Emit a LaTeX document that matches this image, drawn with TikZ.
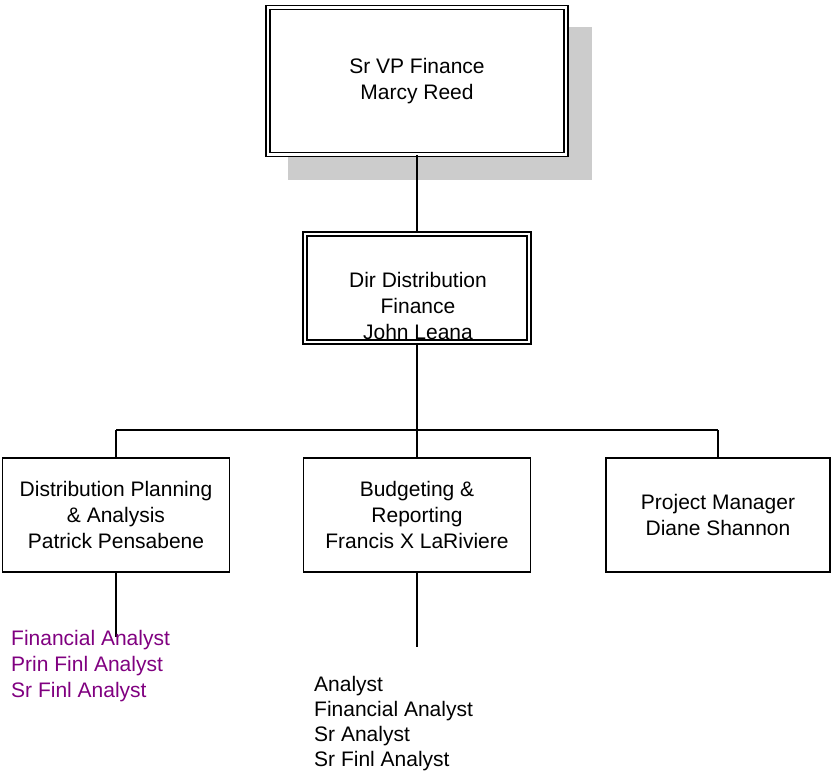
\documentclass[tikz,border=0pt]{standalone}
\usepackage{fontspec}
\setmainfont{Liberation Sans}
\definecolor{shadowgray}{HTML}{CCCCCC}
\definecolor{listpurple}{HTML}{800080}
\begin{document}
\begin{tikzpicture}[x=1pt,y=-1pt,
  txt/.style={font=\fontsize{21}{26}\selectfont, align=center, inner sep=0pt},
  plainbox/.style={draw, line width=1.7pt, inner sep=0pt},
  dblbox/.style={draw, double, double distance=2.6pt, line width=1.6pt, inner sep=0pt},
  conn/.style={line width=1.7pt},
  listtxt/.style={font=\fontsize{21}{25}\selectfont, align=left, inner sep=0pt, anchor=north west}]
\useasboundingbox (0,0) rectangle (832,773);
% shadow
\fill[shadowgray] (288,27) rectangle (592,180);
% boxes
\node[dblbox, fill=white, minimum width=298pt, minimum height=147pt] (b1) at (417,81) {};
\node[txt] (t1) at (417,81) {Sr VP Finance\\Marcy Reed};
\node[dblbox, fill=white, minimum width=224pt, minimum height=108pt] (b2) at (417,288) {};
\node[txt] (t2) at (418,306) {Dir Distribution\\Finance\\John Leana};
\node[plainbox, minimum width=227pt, minimum height=114pt, txt] (b3) at (116,515) {Distribution Planning\\\& Analysis\\Patrick Pensabene};
\node[plainbox, minimum width=227pt, minimum height=114pt, txt] (b4) at (417,515) {Budgeting \&\\Reporting\\Francis X LaRiviere};
\node[plainbox, minimum width=224pt, minimum height=114pt, txt] (b5) at (718,515) {Project Manager\\Diane Shannon};
% connectors
\coordinate (j) at (417,430);
\coordinate (e3) at (116,637);
\coordinate (e4) at (417,647);
\draw[conn] (b1.south) -- (b2.north);
\draw[conn] (b2.south) -- (j);
\draw[conn] (j -| b3.north) -- (j -| b5.north);
\draw[conn] (b3.north) -- (b3.north |- j);
\draw[conn] (b4.north) -- (b4.north |- j);
\draw[conn] (b5.north) -- (b5.north |- j);
\draw[conn] (b3.south) -- (e3);
\draw[conn] (b4.south) -- (e4);
% lists
\node[listtxt, text=listpurple, font=\fontsize{21}{26}\selectfont] (l3) at (11,630) {Financial Analyst\\Prin Finl Analyst\\Sr Finl Analyst};
\node[listtxt] (l4) at (314,676) {Analyst\\Financial Analyst\\Sr Analyst\\Sr Finl Analyst};
\end{tikzpicture}
\end{document}
